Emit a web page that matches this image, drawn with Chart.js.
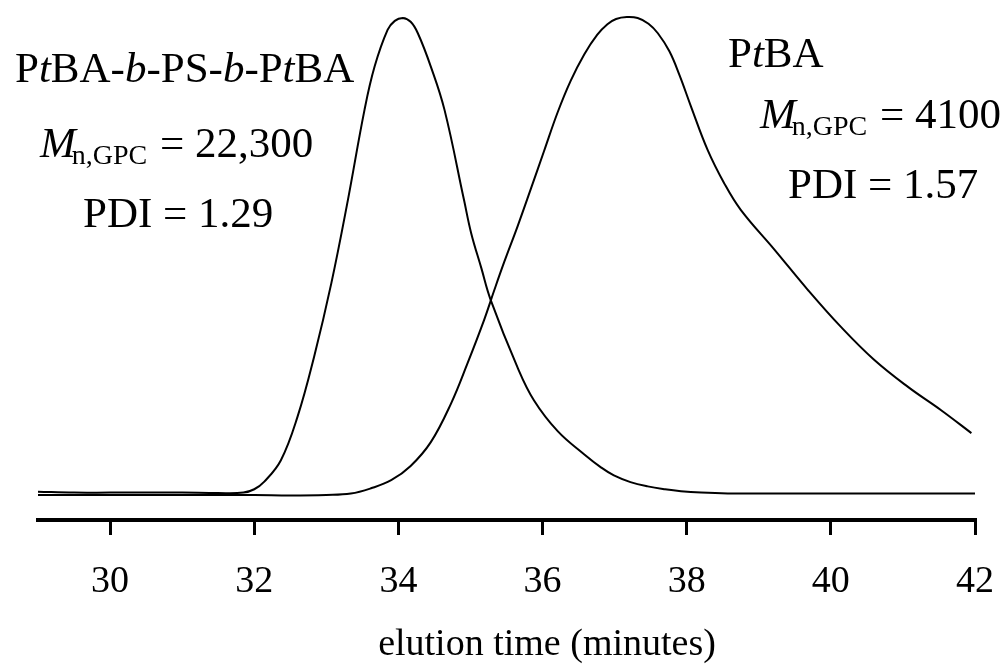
<!DOCTYPE html>
<html>
<head>
<meta charset="utf-8">
<script src="https://cdn.jsdelivr.net/npm/chart.js@4.4.1/dist/chart.umd.min.js"></script>
<style>
  html, body { margin: 0; padding: 0; background: #fff; }
  canvas { display: block; }
</style>
</head>
<body>
<canvas id="c" width="1008" height="667"></canvas>
<script>
// ---- data (elution time in minutes, detector response normalised to peak = 100) ----
const blockTimes  = [29, 29.5, 30, 30.5, 31, 31.5, 31.85, 32.0, 32.14, 32.37, 32.6, 32.83, 33.07, 33.3, 33.53, 33.67, 33.85, 33.95, 34.06, 34.17, 34.27, 34.45, 34.64, 34.91, 35.01, 35.15, 35.28, 35.65, 35.88, 36.21, 36.58, 36.81, 36.99, 37.22, 37.46, 37.7, 37.92, 38.2, 38.57, 39, 40, 41, 42];
const blockValues = [0.5, 0.3, 0.3, 0.3, 0.3, 0.2, 0.3, 1.0, 2.6, 7.1, 16.2, 28.8, 44.3, 61.8, 80.7, 89.8, 97.5, 99.4, 100, 99.2, 96.8, 89.8, 80.7, 61.8, 54.8, 47.5, 40.8, 26.7, 19.7, 13.2, 8.3, 5.6, 3.9, 2.5, 1.6, 1.0, 0.6, 0.3, 0.1, 0.1, 0.1, 0.1, 0.1];

const ptbaTimes  = [29, 30, 31, 32, 32.5, 33, 33.34, 33.62, 33.9, 34.17, 34.45, 34.73, 34.96, 35.19, 35.33, 35.47, 35.66, 35.84, 36.02, 36.21, 36.39, 36.58, 36.76, 36.9, 37.02, 37.17, 37.32, 37.47, 37.6, 37.76, 37.9, 38.06, 38.29, 38.52, 38.75, 39.22, 39.68, 40.14, 40.6, 41.07, 41.53, 41.95];
const ptbaValues = [-0.2, -0.2, -0.2, -0.2, -0.3, -0.2, 0.1, 1.2, 2.9, 5.9, 10.9, 19.0, 27.5, 36.6, 42.8, 48.8, 56.5, 64.2, 72.0, 80.2, 86.8, 92.4, 96.5, 98.7, 99.8, 100.2, 100, 98.8, 96.8, 93.0, 88.0, 81.4, 72.3, 65.3, 59.7, 51.3, 42.9, 35.1, 28.2, 22.5, 17.6, 12.8];

const tickValues = [30, 32, 34, 36, 38, 40, 42];
const xTitle = 'elution time (minutes)';

const SERIF = '"Liberation Serif", "Times New Roman", serif';

function toPoints(xs, ys) { return xs.map((x, i) => ({ x: x, y: ys[i] })); }

// annotation text runs (drawn as canvas text)
const annotations = [
  { x: 15, y: 82, runs: [
    { t: 'P' }, { t: 't', i: true }, { t: 'BA-' }, { t: 'b', i: true }, { t: '-PS-' },
    { t: 'b', i: true }, { t: '-P' }, { t: 't', i: true }, { t: 'BA' } ] },
  { x: 40, y: 157, runs: [
    { t: 'M', i: true }, { t: 'n,GPC', s: 28, dy: 7, dx: -4 }, { t: ' = 22,300', dx: 2 } ] },
  { x: 83, y: 227, runs: [ { t: 'PDI = 1.29' } ] },
  { x: 728, y: 67, runs: [ { t: 'P' }, { t: 't', i: true }, { t: 'BA' } ] },
  { x: 760, y: 128, runs: [
    { t: 'M', i: true }, { t: 'n,GPC', s: 28, dy: 7, dx: -4 }, { t: ' = 4100', dx: 2 } ] },
  { x: 788, y: 198, runs: [ { t: 'PDI = 1.57' } ] }
];

const annotationPlugin = {
  id: 'annotations',
  afterDraw(chart) {
    const ctx = chart.ctx;
    ctx.save();
    ctx.fillStyle = '#000';
    ctx.textBaseline = 'alphabetic';
    ctx.textAlign = 'left';
    annotations.forEach(a => {
      let x = a.x;
      a.runs.forEach(r => {
        const size = r.s || 43;
        ctx.font = (r.i ? 'italic ' : '') + size + 'px ' + SERIF;
        x += (r.dx || 0);
        ctx.fillText(r.t, x, a.y + (r.dy || 0));
        x += ctx.measureText(r.t).width;
      });
    });
    // x-axis title (offset to the right of the axis centre, as in the reference)
    ctx.font = '38px ' + SERIF;
    ctx.textAlign = 'center';
    ctx.fillText(xTitle, 547, 655);
    ctx.restore();
  }
};

new Chart(document.getElementById('c'), {
  type: 'line',
  data: {
    datasets: [
      { label: 'PtBA-b-PS-b-PtBA', data: toPoints(blockTimes, blockValues),
        borderColor: '#000', borderWidth: 2, pointRadius: 0, tension: 0.4, fill: false, clip: false },
      { label: 'PtBA', data: toPoints(ptbaTimes, ptbaValues),
        borderColor: '#000', borderWidth: 2, pointRadius: 0, tension: 0.4, fill: false, clip: false }
    ]
  },
  options: {
    responsive: false,
    animation: false,
    events: [],
    layout: { padding: { top: 18, left: 38, right: 33, bottom: 0 } },
    plugins: { legend: { display: false }, tooltip: { enabled: false } },
    scales: {
      x: {
        type: 'linear', min: 29, max: 42,
        afterBuildTicks: s => { s.ticks = tickValues.map(v => ({ value: v })); },
        afterFit: s => { s.height = 147; s.paddingLeft = 0; s.paddingRight = 0; },
        border: { display: true, color: '#000', width: 4 },
        grid: { drawOnChartArea: false, drawTicks: true, tickLength: 15, color: '#000', lineWidth: 3 },
        ticks: { color: '#000', font: { family: SERIF, size: 38 }, padding: 24, maxRotation: 0, autoSkip: false,
                 callback: v => String(v) },
        title: { display: false, text: xTitle }
      },
      y: { display: false, min: -5.46, max: 100 }
    }
  },
  plugins: [annotationPlugin]
});
</script>
</body>
</html>
